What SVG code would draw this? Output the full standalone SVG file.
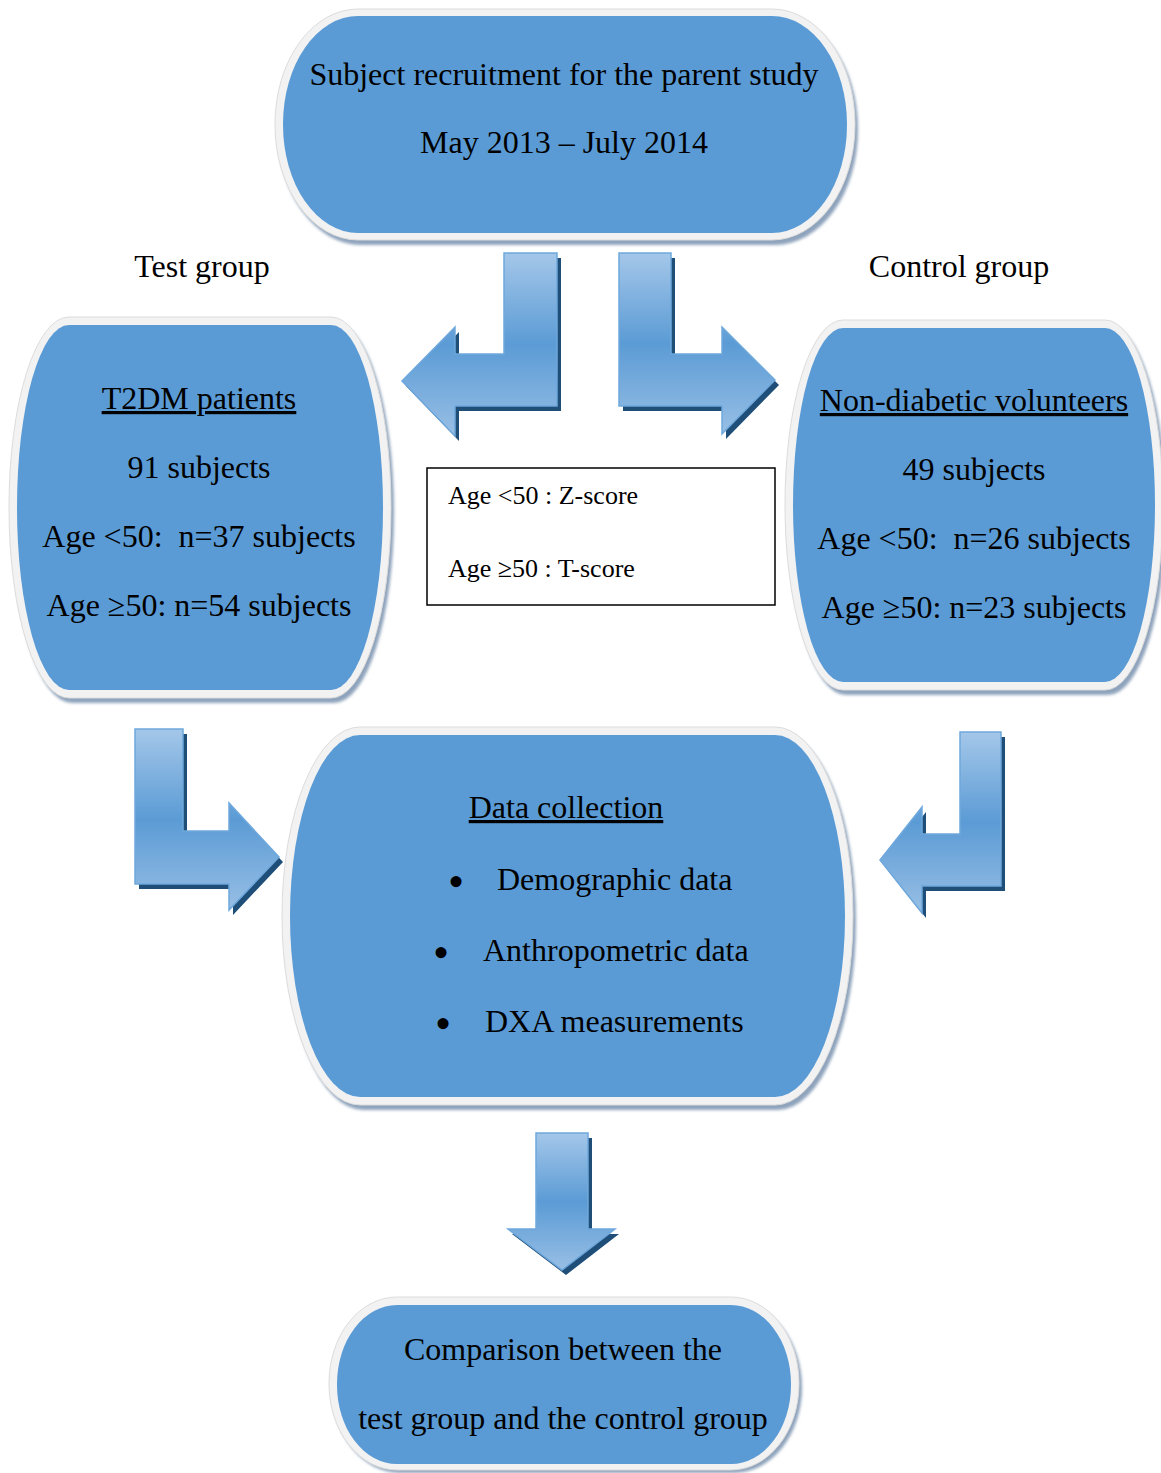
<svg xmlns="http://www.w3.org/2000/svg" width="1161" height="1473" viewBox="0 0 1161 1473">
<defs>
<style>
.ring{fill:#f2f2f2;stroke:#dcdcdc;stroke-width:1}
.shd{fill:#8ea3bc;filter:url(#blur)}
.body{fill:#5b9bd5}
.t{font-family:"Liberation Serif","Times New Roman",serif;font-size:32px;fill:#000;white-space:pre}
.s{font-size:26px}
.b{font-size:46px}
.m{text-anchor:middle}
.u{text-decoration:underline}
.arrow{fill:url(#ag);stroke:#6fa8dc;stroke-width:1.5;stroke-linejoin:miter}
.ash{fill:#1f4e79}
</style>
<filter id="blur" x="-5%" y="-5%" width="110%" height="110%"><feGaussianBlur stdDeviation="1.5"/></filter>
<linearGradient id="ag" x1="0" y1="0" x2="0" y2="1">
<stop offset="0" stop-color="#a4c7e9"/>
<stop offset="0.5" stop-color="#5b9bd5"/>
<stop offset="1" stop-color="#98bfe5"/>
</linearGradient>
</defs>
<rect width="1161" height="1473" fill="#fff"/>

<g id="connectors">
<g id="arrow-top-left">
<path class="ash" transform="translate(4,5)" d="M504,253 H557 V406 H455 V436 L402,381 L455,327 V354 H504 Z"/>
<path class="arrow" d="M504,253 H557 V406 H455 V436 L402,381 L455,327 V354 H504 Z"/>
</g>
<g id="arrow-top-right">
<path class="ash" transform="translate(4,5)" d="M619,253 H671 V354 H722 V327 L775,380 L722,434 V406 H619 Z"/>
<path class="arrow" d="M619,253 H671 V354 H722 V327 L775,380 L722,434 V406 H619 Z"/>
</g>
<g id="arrow-left-data">
<path class="ash" transform="translate(4,5)" d="M135,729 H183 V831 H229 V803 L279,857 L229,910 V884 H135 Z"/>
<path class="arrow" d="M135,729 H183 V831 H229 V803 L279,857 L229,910 V884 H135 Z"/>
</g>
<g id="arrow-right-data">
<path class="ash" transform="translate(4,5)" d="M960,732 H1001 V886 H922 V913 L880,860 L922,807 V834 H960 Z"/>
<path class="arrow" d="M960,732 H1001 V886 H922 V913 L880,860 L922,807 V834 H960 Z"/>
</g>
<g id="arrow-down">
<path class="ash" transform="translate(4,5)" d="M536,1133 H588 V1229 H615 L562,1270 L508,1229 H536 Z"/>
<path class="arrow" d="M536,1133 H588 V1229 H615 L562,1270 L508,1229 H536 Z"/>
</g>
</g>

<g id="node-recruitment">
<rect class="shd" x="278" y="14" width="580" height="231" rx="83" ry="115"/>
<rect class="ring" x="275" y="9" width="580" height="231" rx="83" ry="115"/>
<rect class="body" x="283" y="16" width="564" height="217" rx="75" ry="108"/>
<text class="t m" x="564" y="85">Subject recruitment for the parent study</text>
<text class="t m" x="564" y="153">May 2013 – July 2014</text>
</g>

<g id="label-test">
<text class="t m" x="202" y="277">Test group</text>
</g>
<g id="label-control">
<text class="t m" x="959" y="277">Control group</text>
</g>

<g id="node-t2dm">
<rect class="shd" x="12" y="322" width="382" height="381" rx="60" ry="190"/>
<rect class="ring" x="9" y="317" width="382" height="381" rx="60" ry="190"/>
<rect class="body" x="17" y="325" width="366" height="365" rx="52" ry="182"/>
<text class="t m u" x="199" y="409">T2DM patients</text>
<text class="t m" x="199" y="478">91 subjects</text>
<text class="t m" x="199" y="547">Age &lt;50:  n=37 subjects</text>
<text class="t m" x="199" y="616">Age ≥50: n=54 subjects</text>
</g>

<g id="node-scores">
<rect x="427" y="468" width="348" height="137" fill="#fff" stroke="#000" stroke-width="1.5"/>
<text class="t s" x="448" y="504">Age &lt;50 : Z-score</text>
<text class="t s" x="448" y="577">Age ≥50 : T-score</text>
</g>

<g id="node-nondiabetic">
<rect class="shd" x="788" y="325" width="378" height="370" rx="58" ry="185"/>
<rect class="ring" x="785" y="320" width="378" height="370" rx="58" ry="185"/>
<rect class="body" x="793" y="328" width="362" height="354" rx="50" ry="177"/>
<text class="t m u" x="974" y="411">Non-diabetic volunteers</text>
<text class="t m" x="974" y="480">49 subjects</text>
<text class="t m" x="974" y="549">Age &lt;50:  n=26 subjects</text>
<text class="t m" x="974" y="618">Age ≥50: n=23 subjects</text>
</g>

<g id="node-data">
<rect class="shd" x="285" y="732" width="571" height="378" rx="78" ry="189"/>
<rect class="ring" x="282" y="727" width="571" height="378" rx="78" ry="189"/>
<rect class="body" x="290" y="735" width="555" height="362" rx="70" ry="181"/>
<text class="t m u" x="566" y="818">Data collection</text>
<text class="t b m" x="456" y="897">•</text>
<text class="t" x="497" y="890">Demographic data</text>
<text class="t b m" x="441" y="968">•</text>
<text class="t" x="483" y="961">Anthropometric data</text>
<text class="t b m" x="443" y="1039">•</text>
<text class="t" x="485" y="1032">DXA measurements</text>
</g>

<g id="node-comparison">
<rect class="shd" x="332" y="1302" width="470" height="171" rx="68" ry="86"/>
<rect class="ring" x="329" y="1297" width="470" height="173" rx="68" ry="86"/>
<rect class="body" x="337" y="1305" width="454" height="159" rx="60" ry="79"/>
<text class="t m" x="563" y="1360">Comparison between the</text>
<text class="t m" x="563" y="1429">test group and the control group</text>
</g>
</svg>
